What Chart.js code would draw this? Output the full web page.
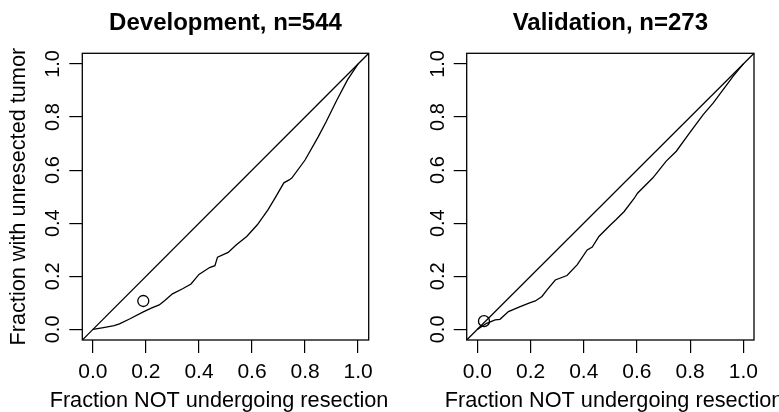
<!DOCTYPE html>
<html><head><meta charset="utf-8">
<script src="https://cdn.jsdelivr.net/npm/chart.js@4.4.1/dist/chart.umd.min.js"></script>
<style>
html,body{margin:0;padding:0;background:#fff;}
#wrap{position:relative;width:779px;height:412px;overflow:hidden;background:#fff;}
#c1{position:absolute;left:0;top:0;}
#c2{position:absolute;left:389px;top:0;}
</style></head><body>
<div id="wrap">
<canvas id="c1" width="389" height="412" style="width:389px;height:412px"></canvas>
<canvas id="c2" width="390" height="412" style="width:390px;height:412px"></canvas>
</div>
<script>
// ---- data ----
const devTitle = 'Development, n=544';
const valTitle = 'Validation, n=273';
const xAxisTitle = 'Fraction NOT undergoing resection';
const yAxisTitle = 'Fraction with unresected tumor';
const tickValues = [0, 0.2, 0.4, 0.6, 0.8, 1.0];
const axisRange = [-0.04, 1.04];
const diagonal = [-0.04, 1.04];

const devX = [0, 0.04, 0.08, 0.10, 0.14, 0.19, 0.22, 0.25, 0.27, 0.30, 0.34, 0.37, 0.40, 0.44, 0.46, 0.47, 0.51, 0.54, 0.58, 0.62, 0.66, 0.69, 0.72, 0.74, 0.75, 0.80, 0.85, 0.88, 0.92, 0.96, 1.0];
const devY = [0, 0.007, 0.014, 0.021, 0.040, 0.066, 0.080, 0.092, 0.108, 0.134, 0.154, 0.171, 0.207, 0.233, 0.240, 0.272, 0.290, 0.318, 0.350, 0.394, 0.450, 0.500, 0.552, 0.563, 0.570, 0.638, 0.726, 0.783, 0.864, 0.940, 1.0];
const devPointX = [0.19];
const devPointY = [0.107];

const valX = [0, 0.035, 0.067, 0.085, 0.117, 0.161, 0.199, 0.218, 0.243, 0.262, 0.293, 0.337, 0.375, 0.413, 0.432, 0.457, 0.501, 0.520, 0.552, 0.590, 0.602, 0.66, 0.71, 0.748, 0.798, 0.849, 0.887, 0.924, 0.962, 1.0];
const valY = [0, 0.023, 0.036, 0.038, 0.067, 0.086, 0.101, 0.107, 0.124, 0.149, 0.186, 0.203, 0.243, 0.299, 0.310, 0.350, 0.394, 0.412, 0.444, 0.494, 0.513, 0.571, 0.634, 0.671, 0.740, 0.809, 0.853, 0.903, 0.954, 1.0];
const valPointX = [0.025];
const valPointY = [0.031];

// ---- drawing ----
const FAMILY = "'Liberation Sans', Arial, Helvetica, sans-serif";

const boxPlugin = {
  id: 'box',
  afterDraw(chart) {
    const a = chart.chartArea, ctx = chart.ctx;
    ctx.save();
    ctx.strokeStyle = '#000';
    ctx.lineWidth = 1.3;
    ctx.strokeRect(a.left, a.top, a.right - a.left, a.bottom - a.top);
    ctx.restore();
  }
};

function axisTitlesPlugin(showY, xShift) {
  return {
    id: 'axisTitles',
    afterDraw(chart) {
      const a = chart.chartArea, ctx = chart.ctx;
      ctx.save();
      ctx.fillStyle = '#000';
      ctx.font = '21.7px ' + FAMILY;
      ctx.textAlign = 'center';
      ctx.textBaseline = 'alphabetic';
      ctx.fillText(xAxisTitle, (a.left + a.right) / 2 + xShift, 406.7);
      if (showY) {
        ctx.translate(25, (a.top + a.bottom) / 2);
        ctx.rotate(-Math.PI / 2);
        ctx.fillText(yAxisTitle, 0, 0);
      }
      ctx.restore();
    }
  };
}

function makeChart(id, title, xs, ys, pxs, pys, boxLeft, padRight, showY, xShift) {
  const curve = xs.map((x, i) => ({x: x, y: ys[i]}));
  const pts = pxs.map((x, i) => ({x: x, y: pys[i]}));
  const diag = diagonal.map(v => ({x: v, y: v}));
  const tickCfg = (size) => ({
    color: '#000', font: {family: FAMILY, size: size}, autoSkip: false,
    callback: v => Number(v).toFixed(1)
  });
  return new Chart(document.getElementById(id), {
    type: 'scatter',
    data: {datasets: [
      {type: 'line', data: diag, borderColor: '#000', borderWidth: 1.3, pointRadius: 0, fill: false, tension: 0},
      {type: 'line', data: curve, borderColor: '#000', borderWidth: 1.3, pointRadius: 0, fill: false, tension: 0},
      {type: 'scatter', data: pts, pointRadius: 5.5, pointBorderColor: '#000', pointBackgroundColor: 'rgba(0,0,0,0)', pointBorderWidth: 1.3}
    ]},
    options: {
      responsive: false, animation: false, devicePixelRatio: 1,
      layout: {padding: {left: 0, right: padRight, top: 0, bottom: 0}},
      plugins: {
        legend: {display: false}, tooltip: {enabled: false},
        title: {display: true, text: title, fullSize: false, color: '#000',
          font: {family: FAMILY, size: 24, weight: 'bold', lineHeight: 1.2},
          padding: {top: 9, bottom: 15.5}}
      },
      scales: {
        x: {
          type: 'linear', position: 'bottom', min: axisRange[0], max: axisRange[1],
          afterBuildTicks: s => { s.ticks = tickValues.map(v => ({value: v})); },
          afterFit: s => { s.height = 72; },
          grid: {display: true, drawOnChartArea: false, drawTicks: true, tickLength: 13, color: '#000', lineWidth: 1.2},
          border: {display: false},
          ticks: Object.assign(tickCfg(21), {padding: 6.4, minRotation: 0, maxRotation: 0})
        },
        y: {
          type: 'linear', position: 'left', min: axisRange[0], max: axisRange[1],
          afterBuildTicks: s => { s.ticks = tickValues.map(v => ({value: v})); },
          afterFit: s => { s.width = boxLeft; },
          grid: {display: true, drawOnChartArea: false, drawTicks: true, tickLength: 13, color: '#000', lineWidth: 1.2},
          border: {display: false},
          ticks: Object.assign(tickCfg(20), {padding: 1.7, minRotation: 90, maxRotation: 90, crossAlign: 'center'})
        }
      }
    },
    plugins: [boxPlugin, axisTitlesPlugin(showY, xShift)]
  });
}

makeChart('c1', devTitle, devX, devY, devPointX, devPointY, 82.3, 20.3, true, -6.5);
makeChart('c2', valTitle, valX, valY, valPointX, valPointY, 77.7, 25, false, 3.7);
</script>
</body></html>
